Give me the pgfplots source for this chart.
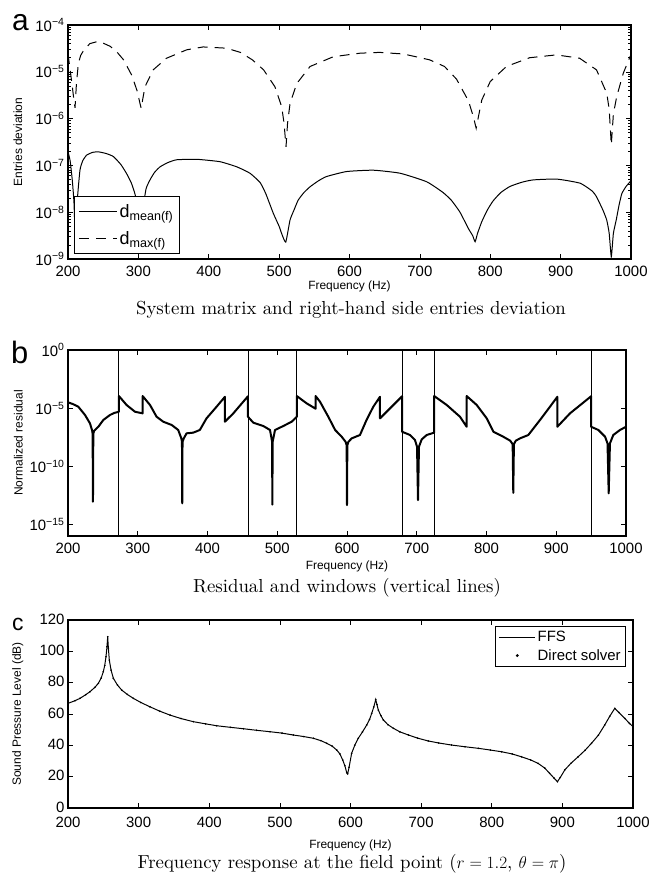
\documentclass[border=0pt]{standalone}
\usepackage{pgfplots}
\usepackage{pgfplotstable}
\pgfplotsset{compat=1.18}
\usepackage{fontspec}
\newfontfamily\arial{Liberation Sans}
\newfontfamily\capfont{lmroman10-regular.otf}

% ---------- (a) entries deviation ----------
\pgfplotstableread{
f      d
200    1.95e-7
203    1.26e-7
206    5.0e-8
208.5  1.6e-8
211    1.6e-9
213    1.6e-8
217    7.9e-8
221    1.26e-7
226.5  1.66e-7
235    1.9e-7
243    1.95e-7
254    1.8e-7
264.4  1.55e-7
275    1.05e-7
283    6.8e-8
290    4.2e-8
295    2.5e-8
299    1.26e-8
303    1.6e-9
307    1.26e-8
311    3.2e-8
316.5  4.9e-8
323    7.1e-8
330.7  9.3e-8
342    1.15e-7
354.4  1.32e-7
383    1.35e-7
416    1.2e-7
440    9.3e-8
458.6  6.8e-8
473    4.3e-8
481    2.5e-8
491.7  9.5e-9
500    5.0e-9
503.6  3.5e-9
509.4  2.3e-9
515.5  6.8e-9
521    1.1e-8
527    1.8e-8
535    2.6e-8
544    3.5e-8
556    4.7e-8
567.6  5.8e-8
596    7.4e-8
634    7.9e-8
672    6.8e-8
709.7  4.47e-8
733    2.63e-8
745    1.78e-8
757    1.0e-8
769    4.47e-9
775    3.16e-9
778.5  2.34e-9
782    3.55e-9
788    6.3e-9
796    1.12e-8
804    1.74e-8
815    2.63e-8
828    3.55e-8
845    4.37e-8
861    4.9e-8
894.5  5.1e-8
927.6  4.17e-8
945    2.82e-8
951    2.14e-8
960    1.12e-8
965.5  6.8e-9
969    3.55e-9
972    1.12e-9
975    3.55e-9
979    6.8e-9
983    1.41e-8
987    2.5e-8
993    3.55e-8
1000   4.7e-8
}\dmean

\pgfplotstableread{
f      d
200    2.4e-5
203    1.12e-5
206    5.0e-6
208    2.8e-6
210    1.7e-6
212    5.6e-6
214.7  1.5e-5
218    2.24e-5
221.8  2.8e-5
231    4.0e-5
241    4.4e-5
250    4.1e-5
260    3.5e-5
270    2.6e-5
279    1.8e-5
290.5  8.5e-6
298.5  3.8e-6
302    2.2e-6
304    1.66e-6
306    2.5e-6
309.4  4.8e-6
321    1.1e-5
340    1.95e-5
368.6  2.95e-5
392    3.4e-5
425    3.2e-5
445    2.6e-5
462    1.8e-5
478    1.1e-5
494    4.8e-6
503.6  1.8e-6
507    8.0e-7
509.8  2.5e-7
512    8.0e-7
515.5  2.1e-6
525    5.6e-6
544    1.3e-5
577    2.1e-5
615    2.5e-5
643    2.6e-5
677    2.4e-5
714    1.8e-5
735    1.3e-5
752    7.0e-6
769    2.4e-6
776    1.1e-6
780    6.2e-7
784    1.26e-6
788    2.5e-6
800    6.2e-6
823    1.3e-5
856    2.0e-5
894    2.3e-5
927    1.95e-5
951    1.1e-5
965.5  3.5e-6
969    1.6e-6
972    2.75e-7
975    1.26e-6
979.7  2.95e-6
989    9.3e-6
998.6  2.1e-5
1000   2.24e-5
}\dmax

% ---------- (b) normalized residual ----------
\pgfplotstableread{
f      r
200    3.16e-5
207    2.24e-5
214.8  1.32e-5
224.4  2.57e-6
231.5  4.9e-7
234.5  1.26e-7
235.3  6.3e-8
235.8  8.9e-14
236.3  6.3e-8
237.5  1.12e-7
243.5  2.5e-7
250.6  9.5e-7
260.2  2.57e-6
266    3.8e-6
273    4.9e-6
273    1.1e-4
284    1.86e-5
296    4.9e-6
307    3.55e-6
307    1.1e-4
317.6  1.86e-5
327    1.82e-6
336.6  6.8e-7
348.7  3.55e-7
358    1.32e-7
362.5  2.5e-8
363.4  1.26e-8
363.8  6.3e-14
364.2  1.26e-8
366    2.5e-8
370    6.8e-8
379.7  7.8e-8
389    1.32e-7
398.6  1.32e-6
413    1.32e-5
425    9.5e-5
425    6.8e-7
437    3.55e-6
458    1.05e-4
458    1.82e-6
465.7  5.6e-7
480    2.9e-7
489.6  1.32e-7
491.8  2.5e-8
492.6  1.26e-8
493    5.0e-14
493.4  1.26e-8
494.4  2.5e-8
496.8  1.32e-7
508.7  2.9e-7
520.7  6.8e-7
528    1.82e-6
528    1.1e-4
542.2  2.57e-5
555    8.9e-6
555    1.1e-4
561.3  3.55e-5
573.2  1.82e-6
583    1.32e-7
592.4  3.47e-8
598    1.26e-8
599.5  6.3e-9
600    4.6e-14
600.5  6.3e-9
602    1.26e-8
606.7  2.5e-8
618.6  4.9e-8
628    9.5e-7
637.7  1.32e-5
647.3  9.5e-5
647.3  1.32e-6
661.6  9.5e-6
679    1.05e-4
679    9.3e-8
690.3  4.9e-8
697.5  1.78e-8
700.4  4.8e-9
701.8  1.23e-13
703.2  4.8e-9
707.1  2.04e-8
714.3  4.9e-8
725    7.8e-8
725    1.1e-4
743    1.86e-5
762    1.82e-6
771.6  2.5e-7
771.6  1.1e-4
786    1.86e-5
800.3  1.32e-6
809.9  9.3e-8
824    3.47e-8
834    1.58e-8
837.5  7.9e-9
838.4  5.2e-13
839.3  7.9e-9
842    1.58e-8
848    2.5e-8
860    4.9e-8
876.7  9.5e-7
891    1.32e-5
901.6  9.5e-5
901.6  2.5e-7
919.7  3.55e-6
950    1.05e-4
950    2.5e-7
960.4  1.32e-7
970    3.47e-8
973.5  9.3e-9
975.2  4.6e-13
977    9.3e-9
981.8  4.9e-8
991.4  1.32e-7
1000   2.5e-7
}\resid

% ---------- (c) sound pressure level ----------
\pgfplotstableread{
f      spl
200    66.8
210    68.5
217    70.0
225    72.3
231    74.2
238    77.0
243    79.6
247    83.0
250    87.0
252    91.0
253.8  96.6
255.2  103.0
256.2  109.3
257.2  102.0
258.5  94.4
261    88.0
264.2  82.8
270    78.5
276    75.3
284    72.5
292.5  70.0
303    67.4
316    64.6
330    61.8
344.5  59.3
360    57.1
377.5  55.1
395    53.7
410.6  52.5
430    51.5
448.4  50.6
467    49.6
486    48.7
503    47.8
519    46.6
534    45.6
547.5  44.5
558    43.0
566.4  41.3
574    39.5
580.5  37.0
585    34.5
589    30.6
592    27.0
594.7  22.5
596    21.8
598    26.0
601.6  34.9
606    40.0
611    44.5
617    48.6
623    53.0
627    56.5
630    60.4
633    64.5
635.7  69.2
637.5  66.0
639.4  62.5
643    59.0
646.5  56.2
653    53.2
660.7  50.9
670    48.6
682    46.6
695    44.6
710    42.8
725    41.5
743    40.2
762    39.1
781    38.1
798    37.0
814    35.9
829    34.5
842    32.7
855    30.7
865.6  28.5
875    25.5
882    22.1
888    19.2
893    16.8
897    19.5
903.4  24.3
912    28.5
922.3  32.7
932    36.8
941.2  41.3
951    46.5
960    53.0
967    58.5
974.2  63.6
980    61.0
988.4  57.2
995    54.0
1000   52.0
}\spl

\pgfplotsset{
  panel/.style={
    scale only axis,
    xmin=200, xmax=1000,
    xtick={200,300,...,1000},
    tick pos=both,
    tick align=inside,
    major tick length=5bp,
    minor tick length=2.5bp,
    tick style={black, line width=0.6pt},
    axis line style={black, line width=1.1pt},
    tick label style={font=\arial\fontsize{15}{15}\selectfont},
    /pgf/number format/assume math mode=true,
    /pgf/number format/1000 sep={},
    xticklabel style={yshift=-3.5bp},
    label style={font=\arial\fontsize{12}{12}\selectfont},
    xlabel={Frequency (Hz)},
    ylabel style={at={(axis description cs:-0.089,0.5)}, anchor=center},
    legend cell align=left,
  },
}
\tikzset{caption/.style={anchor=base, inner sep=0, font=\capfont\fontsize{18.9}{21}\selectfont}}

\begin{document}
\begin{tikzpicture}
\useasboundingbox (0,0) rectangle (651bp,-880bp);

% ---------------- panel a ----------------
\begin{axis}[panel,
  at={(68bp,-259bp)}, anchor=south west,
  width=563bp, height=234bp,
  ymode=log, ymin=1e-9, ymax=1e-4,
  ytick={1e-9,1e-8,1e-7,1e-6,1e-5,1e-4},
  yticklabels={10\textsuperscript{−9},10\textsuperscript{−8},10\textsuperscript{−7},10\textsuperscript{−6},10\textsuperscript{−5},10\textsuperscript{−4}},
  minor ytick={2e-9,3e-9,4e-9,5e-9,6e-9,7e-9,8e-9,9e-9,
               2e-8,3e-8,4e-8,5e-8,6e-8,7e-8,8e-8,9e-8,
               2e-7,3e-7,4e-7,5e-7,6e-7,7e-7,8e-7,9e-7,
               2e-6,3e-6,4e-6,5e-6,6e-6,7e-6,8e-6,9e-6,
               2e-5,3e-5,4e-5,5e-5,6e-5,7e-5,8e-5,9e-5},
  ylabel={Entries deviation},
  xlabel style={at={(axis description cs:0.5,0)}, anchor=base, yshift=-30bp},
  legend style={at={(axis description cs:0.011,0.021)}, anchor=south west,
    draw=black, line width=1pt, fill=white,
    font=\arial\fontsize{18}{18}\selectfont, row sep=8bp, inner xsep=4bp, inner ysep=6bp},
  legend image code/.code={\draw[#1] (4bp,0bp) -- (42bp,0bp);},
]
\addplot[black, line width=1pt, smooth, tension=0.3] table[x=f, y=d] {\dmean};
\addlegendentry{d\textsubscript{mean(f)}}
\addplot[black, line width=1pt, dash pattern=on 10bp off 7bp] table[x=f, y=d] {\dmax};
\addlegendentry{d\textsubscript{max(f)}}
\end{axis}

% ---------------- panel b ----------------
\begin{axis}[panel,
  at={(68bp,-536bp)}, anchor=south west,
  width=558bp, height=186bp,
  ymode=log, ymin=1e-16, ymax=1,
  ytick={1e-15,1e-10,1e-5,1},
  yticklabels={10\textsuperscript{−15},10\textsuperscript{−10},10\textsuperscript{−5},10\textsuperscript{0}},
  minor ytick={},
  ylabel={Normalized residual},
  xlabel style={at={(axis description cs:0.5,0)}, anchor=base, yshift=-33bp},
]
\addplot[black, line width=2pt, line join=round] table[x=f, y=r] {\resid};
% window boundaries
\addplot[black, line width=0.9pt] coordinates {(273,1e-16) (273,1)};
\addplot[black, line width=0.9pt] coordinates {(458,1e-16) (458,1)};
\addplot[black, line width=0.9pt] coordinates {(528,1e-16) (528,1)};
\addplot[black, line width=0.9pt] coordinates {(679,1e-16) (679,1)};
\addplot[black, line width=0.9pt] coordinates {(725,1e-16) (725,1)};
\addplot[black, line width=0.9pt] coordinates {(950,1e-16) (950,1)};
\end{axis}

% ---------------- panel c ----------------
\begin{axis}[panel,
  at={(68bp,-808bp)}, anchor=south west,
  width=565bp, height=188bp,
  ymin=0, ymax=120, ytick={0,20,...,120},
  xticklabel style={yshift=-2bp},
  yticklabel style={yshift=1bp},
  ylabel={Sound Pressure Level (dB)},
  xlabel style={at={(axis description cs:0.5,0)}, anchor=base, yshift=-40bp},
  legend style={at={(axis description cs:0.988,0.968)}, anchor=north east,
    draw=black, line width=1pt, fill=white,
    font=\arial\fontsize{15}{15}\selectfont, row sep=2bp, inner xsep=3bp, inner ysep=3bp},
]
\addplot[black, line width=1pt,
  legend image code/.code={\draw[black, line width=0.8pt] (0bp,0bp) -- (36bp,0bp);}]
  table[x=f, y=spl] {\spl};
\addlegendentry{FFS}
\addplot[black, only marks, mark=*, mark size=0.6bp,
  legend image code/.code={\fill[black] (18bp,0bp) circle (0.9bp);}]
  table[x=f, y=spl] {\spl};
\addlegendentry{Direct solver}
\end{axis}

% panel letters
\node[anchor=base west, inner sep=0, font=\arial\fontsize{30}{30}\selectfont] at (12bp,-30bp) {a};
\node[anchor=base west, inner sep=0, font=\arial\fontsize{31}{31}\selectfont] at (11bp,-363bp) {b};
\node[anchor=base west, inner sep=0, font=\arial\fontsize{23}{23}\selectfont] at (12bp,-630bp) {c};

% captions
\node[caption] at (351bp,-314bp) {System matrix and right-hand side entries deviation};
\node[caption] at (347bp,-592bp) {Residual and windows (vertical lines)};
\node[caption] at (352bp,-868bp) {Frequency response at the field point ($r = 1.2$, $\theta = \pi$)};
\end{tikzpicture}
\end{document}
